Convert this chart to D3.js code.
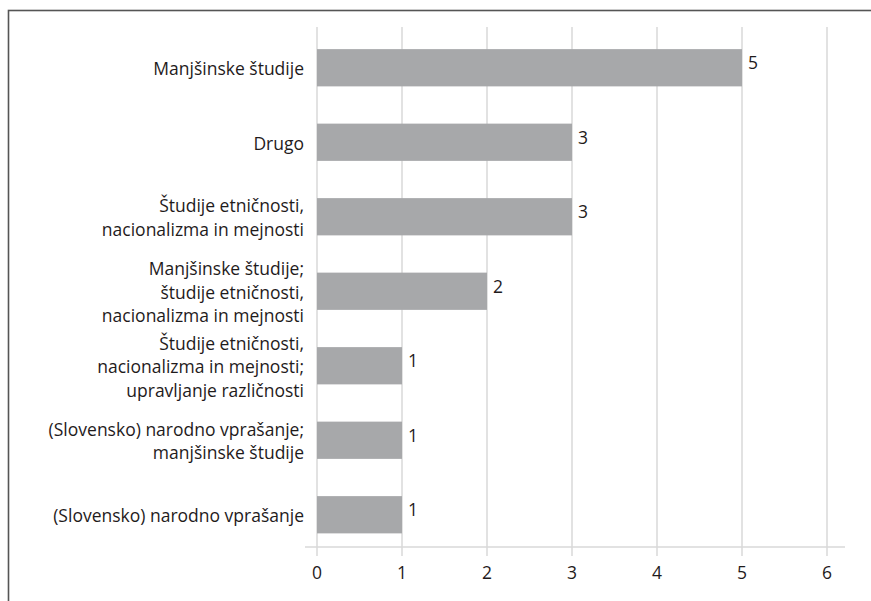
<!DOCTYPE html>
<html><head><meta charset="utf-8">
<script src="https://cdn.jsdelivr.net/npm/d3@7"></script>
<style>body{margin:0;background:#fff} svg{display:block}</style>
</head><body><svg id="c" width="871" height="601"></svg>
<script>
const categories = [
  "Manjšinske študije",
  "Drugo",
  "Študije etničnosti,\nnacionalizma in mejnosti",
  "Manjšinske študije;\nštudije etničnosti,\nnacionalizma in mejnosti",
  "Študije etničnosti,\nnacionalizma in mejnosti;\nupravljanje različnosti",
  "(Slovensko) narodno vprašanje;\nmanjšinske študije",
  "(Slovensko) narodno vprašanje"
];
const values = [5, 3, 3, 2, 1, 1, 1];
const tickValues = [0, 1, 2, 3, 4, 5, 6];

const svg = d3.select("#c");
const font = "'Open Sans', sans-serif";
const fs = 17.5;
const textColor = "#1f1b1c";
const gridColor = "#d9d9d9";

// outer frame
svg.append("rect").attr("x", 8.5).attr("y", 10.5).attr("width", 900).attr("height", 700)
  .attr("fill", "none").attr("stroke", "#555").attr("stroke-width", 1.6);

const x = d3.scaleLinear().domain([0, 6]).range([317, 827]);
const y = d3.scaleBand().domain(categories).range([30.5, 552]).paddingInner(0.5).paddingOuter(0.25);
const axisY = 547;

// gridlines
svg.append("g").selectAll("line").data(tickValues).join("line")
  .attr("x1", d => x(d)).attr("x2", d => x(d))
  .attr("y1", 27).attr("y2", 556)
  .attr("stroke", gridColor).attr("stroke-width", 1.5);

// axis line
svg.append("line").attr("x1", 305).attr("x2", 845).attr("y1", axisY).attr("y2", axisY)
  .attr("stroke", gridColor).attr("stroke-width", 1.5);

// tick labels
svg.append("g").selectAll("text").data(tickValues).join("text")
  .attr("x", d => x(d)).attr("y", 579)
  .attr("text-anchor", "middle")
  .attr("font-family", font).attr("font-size", fs).attr("fill", textColor)
  .text(d => d);

// bars
svg.append("g").selectAll("rect").data(values).join("rect")
  .attr("x", x(0)).attr("y", (d, i) => y(categories[i]))
  .attr("width", d => x(d) - x(0)).attr("height", y.bandwidth())
  .attr("fill", "#a7a8aa");

// value labels
svg.append("g").selectAll("text").data(values).join("text")
  .attr("x", d => x(d) + 6)
  .attr("y", (d, i) => y(categories[i]) + y.bandwidth() / 2 + 1.5)
  .attr("font-family", font).attr("font-size", fs).attr("fill", textColor)
  .text(d => d);

// category labels
const lh = 23.5;
const lg = svg.append("g");
categories.forEach(c => {
  const lines = c.split("\n");
  const cy = y(c) + y.bandwidth() / 2;
  const t = lg.append("text")
    .attr("text-anchor", "end")
    .attr("font-family", font).attr("font-size", fs).attr("fill", textColor);
  lines.forEach((l, i) => {
    t.append("tspan").attr("x", 304)
      .attr("y", cy + (i - (lines.length - 1) / 2) * lh)
      .attr("dy", "0.42em").text(l);
  });
});
</script></body></html>
